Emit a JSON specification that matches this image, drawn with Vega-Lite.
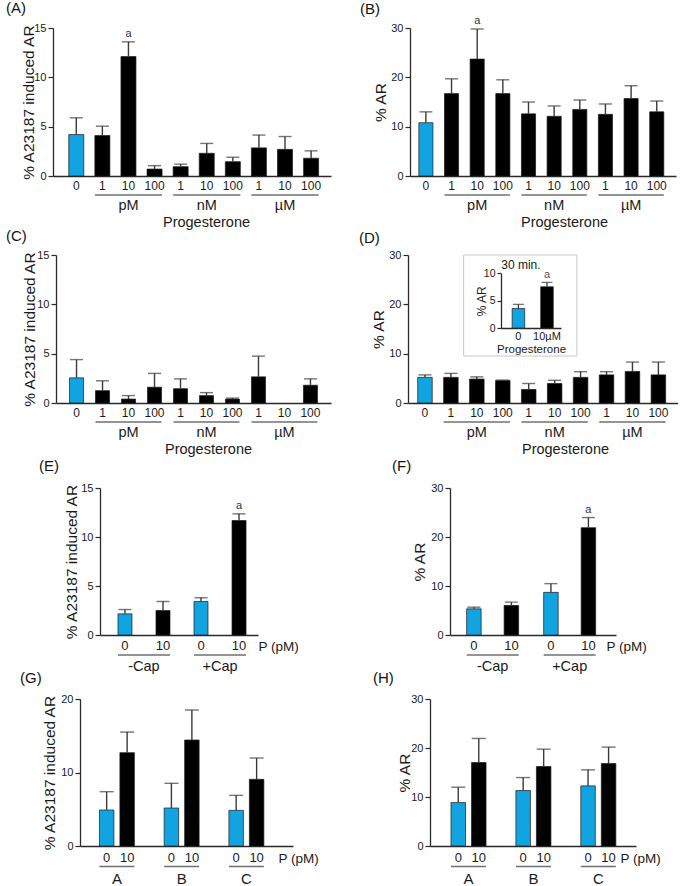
{
"$schema": "https://vega.github.io/schema/vega-lite/v6.json",
"padding": {"left": 0, "top": 1, "right": 0, "bottom": 0},
"background": "white",
"spacing": -6,
"bounds": "full",
"resolve": {"scale": {"xOffset": "independent"}},
"config": {
  "view": {"stroke": null},
  "font": "Liberation Sans",
  "axis": {"domainColor": "#2a2a2a", "domainWidth": 1.3, "tickColor": "#2a2a2a", "tickWidth": 1.2, "labelColor": "#1a1a1a", "titleColor": "#1a1a1a", "labelFont": "Liberation Sans", "titleFont": "Liberation Sans", "titleFontWeight": "normal", "grid": false, "labelFontSize": 11, "titleFontSize": 15.5},
  "axisY": {"tickSize": 5, "labelPadding": 2, "titlePadding": 3, "titleBaseline": "middle"},
  "axisX": {"ticks": false, "tickSize": 0, "labelPadding": 4, "labelAngle": 0, "labelFontSize": 12, "titleFontSize": 14.5},
  "title": {"anchor": "start", "frame": "group", "fontSize": 15, "fontWeight": "normal", "font": "Liberation Sans", "color": "#111", "baseline": "alphabetic"},
  "text": {"font": "Liberation Sans", "color": "#1a1a1a"}
},
"datasets": {
  "A": [
    {"cond": "c0", "grp": "ctrl", "v": 4.2, "hi": 5.9, "sig": ""},
    {"cond": "p1", "grp": "trt", "v": 4.1, "hi": 5.05, "sig": ""},
    {"cond": "p10", "grp": "trt", "v": 12.1, "hi": 13.6, "sig": "a"},
    {"cond": "p100", "grp": "trt", "v": 0.7, "hi": 1.05, "sig": ""},
    {"cond": "n1", "grp": "trt", "v": 0.95, "hi": 1.2, "sig": ""},
    {"cond": "n10", "grp": "trt", "v": 2.3, "hi": 3.3, "sig": ""},
    {"cond": "n100", "grp": "trt", "v": 1.45, "hi": 1.9, "sig": ""},
    {"cond": "u1", "grp": "trt", "v": 2.85, "hi": 4.15, "sig": ""},
    {"cond": "u10", "grp": "trt", "v": 2.7, "hi": 4.0, "sig": ""},
    {"cond": "u100", "grp": "trt", "v": 1.8, "hi": 2.55, "sig": ""}
  ],
  "B": [
    {"cond": "c0", "grp": "ctrl", "v": 10.8, "hi": 13.0, "sig": ""},
    {"cond": "p1", "grp": "trt", "v": 16.7, "hi": 19.7, "sig": ""},
    {"cond": "p10", "grp": "trt", "v": 23.7, "hi": 29.8, "sig": "a"},
    {"cond": "p100", "grp": "trt", "v": 16.7, "hi": 19.5, "sig": ""},
    {"cond": "n1", "grp": "trt", "v": 12.6, "hi": 15.0, "sig": ""},
    {"cond": "n10", "grp": "trt", "v": 12.1, "hi": 14.2, "sig": ""},
    {"cond": "n100", "grp": "trt", "v": 13.5, "hi": 15.4, "sig": ""},
    {"cond": "u1", "grp": "trt", "v": 12.5, "hi": 14.6, "sig": ""},
    {"cond": "u10", "grp": "trt", "v": 15.7, "hi": 18.3, "sig": ""},
    {"cond": "u100", "grp": "trt", "v": 13.0, "hi": 15.2, "sig": ""}
  ],
  "C": [
    {"cond": "c0", "grp": "ctrl", "v": 2.55, "hi": 4.4, "sig": ""},
    {"cond": "p1", "grp": "trt", "v": 1.25, "hi": 2.25, "sig": ""},
    {"cond": "p10", "grp": "trt", "v": 0.4, "hi": 0.75, "sig": ""},
    {"cond": "p100", "grp": "trt", "v": 1.6, "hi": 3.0, "sig": ""},
    {"cond": "n1", "grp": "trt", "v": 1.45, "hi": 2.45, "sig": ""},
    {"cond": "n10", "grp": "trt", "v": 0.75, "hi": 1.05, "sig": ""},
    {"cond": "n100", "grp": "trt", "v": 0.4, "hi": 0.5, "sig": ""},
    {"cond": "u1", "grp": "trt", "v": 2.65, "hi": 4.75, "sig": ""},
    {"cond": "u10", "grp": "trt", "v": 0, "hi": 0, "sig": ""},
    {"cond": "u100", "grp": "trt", "v": 1.8, "hi": 2.45, "sig": ""}
  ],
  "D": [
    {"cond": "c0", "grp": "ctrl", "v": 5.2, "hi": 5.7, "sig": ""},
    {"cond": "p1", "grp": "trt", "v": 5.2, "hi": 6.0, "sig": ""},
    {"cond": "p10", "grp": "trt", "v": 4.85, "hi": 5.3, "sig": ""},
    {"cond": "p100", "grp": "trt", "v": 4.55, "hi": 4.65, "sig": ""},
    {"cond": "n1", "grp": "trt", "v": 2.75, "hi": 3.95, "sig": ""},
    {"cond": "n10", "grp": "trt", "v": 3.95, "hi": 4.6, "sig": ""},
    {"cond": "n100", "grp": "trt", "v": 5.2, "hi": 6.35, "sig": ""},
    {"cond": "u1", "grp": "trt", "v": 5.7, "hi": 6.35, "sig": ""},
    {"cond": "u10", "grp": "trt", "v": 6.4, "hi": 8.3, "sig": ""},
    {"cond": "u100", "grp": "trt", "v": 5.7, "hi": 8.3, "sig": ""}
  ],
  "Di": [
    {"dose": "0", "grp": "ctrl", "v": 3.6, "hi": 4.35, "sig": ""},
    {"dose": "10µM", "grp": "trt", "v": 7.55, "hi": 8.35, "sig": "a"}
  ],
  "Dbox": [{"from": "0", "to": "10µM", "t": "30 min."}],
  "G3": [
    {"g": "pM", "first": "p1", "mid": "p10", "last": "p100"},
    {"g": "nM", "first": "n1", "mid": "n10", "last": "n100"},
    {"g": "µM", "first": "u1", "mid": "u10", "last": "u100"}
  ],
  "E": [
    {"cap": "-Cap", "dose": "0", "grp": "ctrl", "v": 2.16, "hi": 2.6, "sig": ""},
    {"cap": "-Cap", "dose": "10", "grp": "trt", "v": 2.5, "hi": 3.42, "sig": ""},
    {"cap": "+Cap", "dose": "0", "grp": "ctrl", "v": 3.42, "hi": 3.8, "sig": ""},
    {"cap": "+Cap", "dose": "10", "grp": "trt", "v": 11.68, "hi": 12.36, "sig": "a"}
  ],
  "F": [
    {"cap": "-Cap", "dose": "0", "grp": "ctrl", "v": 5.34, "hi": 5.68, "sig": ""},
    {"cap": "-Cap", "dose": "10", "grp": "trt", "v": 6.03, "hi": 6.71, "sig": ""},
    {"cap": "+Cap", "dose": "0", "grp": "ctrl", "v": 8.7, "hi": 10.48, "sig": ""},
    {"cap": "+Cap", "dose": "10", "grp": "trt", "v": 21.9, "hi": 23.97, "sig": "a"}
  ],
  "Cg": [{"cap": "-Cap"}, {"cap": "+Cap"}],
  "G": [
    {"sp": "A", "dose": "0", "grp": "ctrl", "v": 4.9, "hi": 7.39, "sig": ""},
    {"sp": "A", "dose": "10", "grp": "trt", "v": 12.7, "hi": 15.5, "sig": ""},
    {"sp": "B", "dose": "0", "grp": "ctrl", "v": 5.17, "hi": 8.53, "sig": ""},
    {"sp": "B", "dose": "10", "grp": "trt", "v": 14.42, "hi": 18.5, "sig": ""},
    {"sp": "C", "dose": "0", "grp": "ctrl", "v": 4.85, "hi": 6.89, "sig": ""},
    {"sp": "C", "dose": "10", "grp": "trt", "v": 9.07, "hi": 11.97, "sig": ""}
  ],
  "H": [
    {"sp": "A", "dose": "0", "grp": "ctrl", "v": 8.86, "hi": 12.0, "sig": ""},
    {"sp": "A", "dose": "10", "grp": "trt", "v": 17.04, "hi": 21.95, "sig": ""},
    {"sp": "B", "dose": "0", "grp": "ctrl", "v": 11.32, "hi": 13.97, "sig": ""},
    {"sp": "B", "dose": "10", "grp": "trt", "v": 16.22, "hi": 19.77, "sig": ""},
    {"sp": "C", "dose": "0", "grp": "ctrl", "v": 12.27, "hi": 15.54, "sig": ""},
    {"sp": "C", "dose": "10", "grp": "trt", "v": 16.84, "hi": 20.18, "sig": ""}
  ],
  "Sg": [{"sp": "A"}, {"sp": "B"}, {"sp": "C"}]
},
"vconcat": [
 {"hconcat": [
  {"width": 50, "height": 1, "data": {"values": [{}]}, "mark": {"type": "point", "opacity": 0}},
  {
    "width": 278, "height": 148,
    "title": {"text": "(A)", "dx": -47, "offset": 6},
    "layer": [
      {"data": {"name": "A"}, "mark": {"type": "bar", "stroke": "#1a1a1a", "strokeWidth": 0.7},
       "encoding": {
         "x": {"field": "cond", "type": "nominal", "scale": {"domain": ["c0","p1","p10","p100","n1","n10","n100","u1","u10","u100"], "paddingInner": 0.425, "paddingOuter": 0.54, "align": 0.56}, "axis": {"labelExpr": "slice(datum.value, 1)", "title": "Progesterone", "titleX": 153, "titleY": 46, "titleBaseline": "middle"}},
         "y": {"field": "v", "type": "quantitative", "scale": {"domain": [0, 15], "nice": false}, "axis": {"values": [0, 5, 10, 15], "title": "% A23187 induced AR", "titleX": -25}},
         "color": {"field": "grp", "type": "nominal", "scale": {"domain": ["ctrl", "trt"], "range": ["#12A4E0", "#000000"]}, "legend": null}
       }},
      {"data": {"name": "A"}, "transform": [{"filter": "datum.hi > datum.v"}], "mark": {"type": "rule", "color": "#3a3a3a", "strokeWidth": 1.4},
       "encoding": {"x": {"field": "cond", "type": "nominal"}, "y": {"field": "v", "type": "quantitative"}, "y2": {"field": "hi"}}},
      {"data": {"name": "A"}, "transform": [{"filter": "datum.hi > datum.v"}], "mark": {"type": "tick", "color": "#3a3a3a", "thickness": 1.4, "size": 13},
       "encoding": {"x": {"field": "cond", "type": "nominal"}, "y": {"field": "hi", "type": "quantitative"}}},
      {"data": {"name": "A"}, "transform": [{"filter": "datum.sig == 'a'"}], "mark": {"type": "text", "baseline": "bottom", "dy": -3, "fontSize": 11, "color": "#333"},
       "encoding": {"x": {"field": "cond", "type": "nominal"}, "y": {"field": "hi", "type": "quantitative"}, "text": {"field": "sig"}}},
      {"data": {"name": "G3"}, "mark": {"type": "rule", "yOffset": 19, "color": "#707070", "strokeWidth": 1.3},
       "encoding": {"x": {"field": "first", "type": "nominal", "bandPosition": 0}, "x2": {"field": "last", "bandPosition": 1}, "y": {"datum": 0}}},
      {"data": {"name": "G3"}, "mark": {"type": "text", "yOffset": 30, "baseline": "middle", "fontSize": 14.5},
       "encoding": {"x": {"field": "mid", "type": "nominal"}, "y": {"datum": 0}, "text": {"field": "g"}}}
    ]
  },
  {"width": 79, "height": 1, "data": {"values": [{}]}, "mark": {"type": "point", "opacity": 0}},
  {
    "width": 266, "height": 148,
    "title": {"text": "(B)", "dx": -50, "offset": -2},
    "layer": [
      {"data": {"name": "B"}, "mark": {"type": "bar", "stroke": "#1a1a1a", "strokeWidth": 0.7},
       "encoding": {
         "x": {"field": "cond", "type": "nominal", "scale": {"domain": ["c0","p1","p10","p100","n1","n10","n100","u1","u10","u100"], "paddingInner": 0.45, "paddingOuter": 0.41, "align": 0.42}, "axis": {"labelExpr": "slice(datum.value, 1)", "title": "Progesterone", "titleX": 154, "titleY": 46, "titleBaseline": "middle"}},
         "y": {"field": "v", "type": "quantitative", "scale": {"domain": [0, 30], "nice": false}, "axis": {"values": [0, 5, 10, 15, 20, 25, 30], "labelExpr": "datum.value % 10 === 0 ? datum.label : ''", "title": "% AR", "titleX": -30}},
         "color": {"field": "grp", "type": "nominal", "scale": {"domain": ["ctrl", "trt"], "range": ["#12A4E0", "#000000"]}, "legend": null}
       }},
      {"data": {"name": "B"}, "transform": [{"filter": "datum.hi > datum.v"}], "mark": {"type": "rule", "color": "#3a3a3a", "strokeWidth": 1.4},
       "encoding": {"x": {"field": "cond", "type": "nominal"}, "y": {"field": "v", "type": "quantitative"}, "y2": {"field": "hi"}}},
      {"data": {"name": "B"}, "transform": [{"filter": "datum.hi > datum.v"}], "mark": {"type": "tick", "color": "#3a3a3a", "thickness": 1.4, "size": 13},
       "encoding": {"x": {"field": "cond", "type": "nominal"}, "y": {"field": "hi", "type": "quantitative"}}},
      {"data": {"name": "B"}, "transform": [{"filter": "datum.sig == 'a'"}], "mark": {"type": "text", "baseline": "bottom", "dy": -3, "fontSize": 11, "color": "#333"},
       "encoding": {"x": {"field": "cond", "type": "nominal"}, "y": {"field": "hi", "type": "quantitative"}, "text": {"field": "sig"}}},
      {"data": {"name": "G3"}, "mark": {"type": "rule", "yOffset": 19, "color": "#707070", "strokeWidth": 1.3},
       "encoding": {"x": {"field": "first", "type": "nominal", "bandPosition": 0}, "x2": {"field": "last", "bandPosition": 1}, "y": {"datum": 0}}},
      {"data": {"name": "G3"}, "mark": {"type": "text", "yOffset": 30, "baseline": "middle", "fontSize": 14.5},
       "encoding": {"x": {"field": "mid", "type": "nominal"}, "y": {"datum": 0}, "text": {"field": "g"}}}
    ]
  }
 ], "spacing": 0, "bounds": "flush"},

 {"width": 1, "height": 6, "data": {"values": [{}]}, "mark": {"type": "point", "opacity": 0}},

 {"hconcat": [
  {"width": 53, "height": 1, "data": {"values": [{}]}, "mark": {"type": "point", "opacity": 0}},
  {
    "width": 275, "height": 148,
    "title": {"text": "(C)", "dx": -50, "offset": 5},
    "layer": [
      {"data": {"name": "C"}, "transform": [{"filter": "datum.v > 0"}], "mark": {"type": "bar", "stroke": "#1a1a1a", "strokeWidth": 0.7},
       "encoding": {
         "x": {"field": "cond", "type": "nominal", "scale": {"domain": ["c0","p1","p10","p100","n1","n10","n100","u1","u10","u100"], "paddingInner": 0.46, "paddingOuter": 0.52, "align": 0.5}, "axis": {"labelExpr": "slice(datum.value, 1)", "title": "Progesterone", "titleX": 152, "titleY": 46, "titleBaseline": "middle"}},
         "y": {"field": "v", "type": "quantitative", "scale": {"domain": [0, 15], "nice": false}, "axis": {"values": [0, 5, 10, 15], "title": "% A23187 induced AR", "titleX": -27}},
         "color": {"field": "grp", "type": "nominal", "scale": {"domain": ["ctrl", "trt"], "range": ["#12A4E0", "#000000"]}, "legend": null}
       }},
      {"data": {"name": "C"}, "transform": [{"filter": "datum.hi > datum.v"}], "mark": {"type": "rule", "color": "#3a3a3a", "strokeWidth": 1.4},
       "encoding": {"x": {"field": "cond", "type": "nominal"}, "y": {"field": "v", "type": "quantitative"}, "y2": {"field": "hi"}}},
      {"data": {"name": "C"}, "transform": [{"filter": "datum.hi > datum.v"}], "mark": {"type": "tick", "color": "#3a3a3a", "thickness": 1.4, "size": 13},
       "encoding": {"x": {"field": "cond", "type": "nominal"}, "y": {"field": "hi", "type": "quantitative"}}},
      {"data": {"name": "G3"}, "mark": {"type": "rule", "yOffset": 19, "color": "#707070", "strokeWidth": 1.3},
       "encoding": {"x": {"field": "first", "type": "nominal", "bandPosition": 0}, "x2": {"field": "last", "bandPosition": 1}, "y": {"datum": 0}}},
      {"data": {"name": "G3"}, "mark": {"type": "text", "yOffset": 30, "baseline": "middle", "fontSize": 14.5},
       "encoding": {"x": {"field": "mid", "type": "nominal"}, "y": {"datum": 0}, "text": {"field": "g"}}}
    ]
  },
  {"width": 77, "height": 1, "data": {"values": [{}]}, "mark": {"type": "point", "opacity": 0}},
  {
    "width": 270, "height": 148,
    "title": {"text": "(D)", "dx": -49, "offset": 3},
    "resolve": {"scale": {"x": "independent", "y": "independent"}, "axis": {"x": "independent", "y": "independent"}},
    "layer": [
      {"layer": [
        {"data": {"name": "D"}, "mark": {"type": "bar", "stroke": "#1a1a1a", "strokeWidth": 0.7},
         "encoding": {
           "x": {"field": "cond", "type": "nominal", "scale": {"domain": ["c0","p1","p10","p100","n1","n10","n100","u1","u10","u100"], "paddingInner": 0.44, "paddingOuter": 0.425, "align": 0.44}, "axis": {"orient": "bottom", "labelExpr": "slice(datum.value, 1)", "title": "Progesterone", "titleX": 157, "titleY": 46, "titleBaseline": "middle"}},
           "y": {"field": "v", "type": "quantitative", "scale": {"domain": [0, 30], "nice": false}, "axis": {"orient": "left", "values": [0, 5, 10, 15, 20, 25, 30], "labelExpr": "datum.value % 10 === 0 ? datum.label : ''", "title": "% AR", "titleX": -30}},
           "color": {"field": "grp", "type": "nominal", "scale": {"domain": ["ctrl", "trt"], "range": ["#12A4E0", "#000000"]}, "legend": null}
         }},
        {"data": {"name": "D"}, "transform": [{"filter": "datum.hi > datum.v"}], "mark": {"type": "rule", "color": "#3a3a3a", "strokeWidth": 1.4},
         "encoding": {"x": {"field": "cond", "type": "nominal"}, "y": {"field": "v", "type": "quantitative"}, "y2": {"field": "hi"}}},
        {"data": {"name": "D"}, "transform": [{"filter": "datum.hi > datum.v"}], "mark": {"type": "tick", "color": "#3a3a3a", "thickness": 1.4, "size": 13},
         "encoding": {"x": {"field": "cond", "type": "nominal"}, "y": {"field": "hi", "type": "quantitative"}}},
        {"data": {"name": "G3"}, "mark": {"type": "rule", "yOffset": 19, "color": "#707070", "strokeWidth": 1.3},
         "encoding": {"x": {"field": "first", "type": "nominal", "bandPosition": 0}, "x2": {"field": "last", "bandPosition": 1}, "y": {"datum": 0}}},
        {"data": {"name": "G3"}, "mark": {"type": "text", "yOffset": 30, "baseline": "middle", "fontSize": 14.5},
         "encoding": {"x": {"field": "mid", "type": "nominal"}, "y": {"datum": 0}, "text": {"field": "g"}}}
      ]},
      {"layer": [
        {"data": {"name": "Dbox"}, "mark": {"type": "rect", "fill": "transparent", "stroke": "#c8c8c8", "strokeWidth": 1},
         "encoding": {"x": {"field": "from", "type": "nominal", "bandPosition": -3.86}, "x2": {"field": "to", "bandPosition": 2.88}, "y": {"datum": 13.33}, "y2": {"datum": -5.04}}},
        {"data": {"name": "Dbox"}, "mark": {"type": "text", "baseline": "middle", "fontSize": 12},
         "encoding": {"x": {"field": "from", "type": "nominal", "bandPosition": 0.7}, "y": {"datum": 11.5}, "text": {"field": "t"}}},
        {"data": {"name": "Di"}, "mark": {"type": "bar", "stroke": "#1a1a1a", "strokeWidth": 0.7},
         "encoding": {
           "x": {"field": "dose", "type": "nominal", "scale": {"domain": ["0", "10µM"], "range": [93, 153], "paddingInner": 0.56, "paddingOuter": 0.33, "align": 0.59}, "axis": {"orient": "bottom", "offset": -75, "zindex": 2, "labelFontSize": 11, "labelPadding": 2, "title": "Progesterone", "titleFontSize": 11.5, "titlePadding": 2}},
           "y": {"field": "v", "type": "quantitative", "scale": {"domain": [0, 10], "range": [73.3, 18.3], "nice": false}, "axis": {"orient": "left", "offset": -93, "zindex": 2, "values": [0, 5, 10], "labelFontSize": 10.5, "tickSize": 4, "title": "% AR", "titleFontSize": 12, "titleX": -20}},
           "color": {"field": "grp", "type": "nominal", "scale": {"domain": ["ctrl", "trt"], "range": ["#12A4E0", "#000000"]}, "legend": null}
         }},
        {"data": {"name": "Di"}, "mark": {"type": "rule", "color": "#3a3a3a", "strokeWidth": 1.3},
         "encoding": {"x": {"field": "dose", "type": "nominal"}, "y": {"field": "v", "type": "quantitative"}, "y2": {"field": "hi"}}},
        {"data": {"name": "Di"}, "mark": {"type": "tick", "color": "#3a3a3a", "thickness": 1.3, "size": 11},
         "encoding": {"x": {"field": "dose", "type": "nominal"}, "y": {"field": "hi", "type": "quantitative"}}},
        {"data": {"name": "Di"}, "transform": [{"filter": "datum.sig == 'a'"}], "mark": {"type": "text", "baseline": "bottom", "dy": -2, "fontSize": 11, "color": "#555"},
         "encoding": {"x": {"field": "dose", "type": "nominal"}, "y": {"field": "hi", "type": "quantitative"}, "text": {"field": "sig"}}}
      ]}
    ]
  }
 ], "spacing": 0, "bounds": "flush"},

 {"width": 1, "height": 9, "data": {"values": [{}]}, "mark": {"type": "point", "opacity": 0}},

 {"hconcat": [
  {"width": 97, "height": 1, "data": {"values": [{}]}, "mark": {"type": "point", "opacity": 0}},
  {
    "width": 158, "height": 147,
    "title": {"text": "(E)", "dx": -61, "offset": 8},
    "layer": [
      {"data": {"name": "E"}, "mark": {"type": "bar", "stroke": "#1a1a1a", "strokeWidth": 0.7},
       "encoding": {
         "x": {"field": "cap", "type": "nominal", "scale": {"domain": ["-Cap", "+Cap"], "paddingInner": 0.316, "paddingOuter": 0.197, "align": 0.6}, "axis": {"labelPadding": 24, "labelFontSize": 14.5, "title": "P (pM)", "titleAngle": 0, "titleX": 158, "titleY": 11, "titleAlign": "left", "titleBaseline": "middle", "titleFontSize": 13.5}},
         "xOffset": {"field": "dose", "type": "nominal", "scale": {"domain": ["0", "10"], "paddingInner": 0.632, "paddingOuter": 0}},
         "y": {"field": "v", "type": "quantitative", "scale": {"domain": [0, 15], "nice": false}, "axis": {"values": [0, 5, 10, 15], "title": "% A23187 induced AR", "titleX": -28.5}},
         "color": {"field": "grp", "type": "nominal", "scale": {"domain": ["ctrl", "trt"], "range": ["#12A4E0", "#000000"]}, "legend": null}
       }},
      {"data": {"name": "E"}, "mark": {"type": "rule", "color": "#3a3a3a", "strokeWidth": 1.4},
       "encoding": {"x": {"field": "cap", "type": "nominal"}, "xOffset": {"field": "dose", "type": "nominal"}, "y": {"field": "v", "type": "quantitative"}, "y2": {"field": "hi"}}},
      {"data": {"name": "E"}, "mark": {"type": "tick", "color": "#3a3a3a", "thickness": 1.4, "size": 13},
       "encoding": {"x": {"field": "cap", "type": "nominal"}, "xOffset": {"field": "dose", "type": "nominal"}, "y": {"field": "hi", "type": "quantitative"}}},
      {"data": {"name": "E"}, "transform": [{"filter": "datum.sig == 'a'"}], "mark": {"type": "text", "baseline": "bottom", "dy": -3, "fontSize": 11, "color": "#333"},
       "encoding": {"x": {"field": "cap", "type": "nominal"}, "xOffset": {"field": "dose", "type": "nominal"}, "y": {"field": "hi", "type": "quantitative"}, "text": {"field": "sig"}}},
      {"data": {"name": "E"}, "mark": {"type": "text", "baseline": "middle", "yOffset": 11, "fontSize": 13},
       "encoding": {"x": {"field": "cap", "type": "nominal"}, "xOffset": {"field": "dose", "type": "nominal"}, "y": {"datum": 0}, "text": {"field": "dose"}}},
      {"data": {"name": "Cg"}, "mark": {"type": "rule", "yOffset": 20, "color": "#707070", "strokeWidth": 1.3},
       "encoding": {"x": {"field": "cap", "type": "nominal", "bandPosition": 0}, "x2": {"field": "cap", "bandPosition": 1}, "y": {"datum": 0}}}
    ]
  },
  {"width": 192, "height": 1, "data": {"values": [{}]}, "mark": {"type": "point", "opacity": 0}},
  {
    "width": 166, "height": 147,
    "title": {"text": "(F)", "dx": -58, "offset": 8},
    "layer": [
      {"data": {"name": "F"}, "mark": {"type": "bar", "stroke": "#1a1a1a", "strokeWidth": 0.7},
       "encoding": {
         "x": {"field": "cap", "type": "nominal", "scale": {"domain": ["-Cap", "+Cap"], "paddingInner": 0.325, "paddingOuter": 0.24, "align": 0.45}, "axis": {"labelPadding": 24, "labelFontSize": 14.5, "title": "P (pM)", "titleAngle": 0, "titleX": 156, "titleY": 11, "titleAlign": "left", "titleBaseline": "middle", "titleFontSize": 13.5}},
         "xOffset": {"field": "dose", "type": "nominal", "scale": {"domain": ["0", "10"], "paddingInner": 0.613, "paddingOuter": 0}},
         "y": {"field": "v", "type": "quantitative", "scale": {"domain": [0, 30], "nice": false}, "axis": {"values": [0, 5, 10, 15, 20, 25, 30], "labelExpr": "datum.value % 10 === 0 ? datum.label : ''", "title": "% AR", "titleX": -31}},
         "color": {"field": "grp", "type": "nominal", "scale": {"domain": ["ctrl", "trt"], "range": ["#12A4E0", "#000000"]}, "legend": null}
       }},
      {"data": {"name": "F"}, "mark": {"type": "rule", "color": "#3a3a3a", "strokeWidth": 1.4},
       "encoding": {"x": {"field": "cap", "type": "nominal"}, "xOffset": {"field": "dose", "type": "nominal"}, "y": {"field": "v", "type": "quantitative"}, "y2": {"field": "hi"}}},
      {"data": {"name": "F"}, "mark": {"type": "tick", "color": "#3a3a3a", "thickness": 1.4, "size": 13},
       "encoding": {"x": {"field": "cap", "type": "nominal"}, "xOffset": {"field": "dose", "type": "nominal"}, "y": {"field": "hi", "type": "quantitative"}}},
      {"data": {"name": "F"}, "transform": [{"filter": "datum.sig == 'a'"}], "mark": {"type": "text", "baseline": "bottom", "dy": -3, "fontSize": 11, "color": "#333"},
       "encoding": {"x": {"field": "cap", "type": "nominal"}, "xOffset": {"field": "dose", "type": "nominal"}, "y": {"field": "hi", "type": "quantitative"}, "text": {"field": "sig"}}},
      {"data": {"name": "F"}, "mark": {"type": "text", "baseline": "middle", "yOffset": 11, "fontSize": 13},
       "encoding": {"x": {"field": "cap", "type": "nominal"}, "xOffset": {"field": "dose", "type": "nominal"}, "y": {"datum": 0}, "text": {"field": "dose"}}},
      {"data": {"name": "Cg"}, "mark": {"type": "rule", "yOffset": 20, "color": "#707070", "strokeWidth": 1.3},
       "encoding": {"x": {"field": "cap", "type": "nominal", "bandPosition": 0}, "x2": {"field": "cap", "bandPosition": 1}, "y": {"datum": 0}}}
    ]
  }
 ], "spacing": 0, "bounds": "flush", "resolve": {"scale": {"xOffset": "independent"}}},

 {"width": 1, "height": 2, "data": {"values": [{}]}, "mark": {"type": "point", "opacity": 0}},

 {"hconcat": [
  {"width": 77, "height": 1, "data": {"values": [{}]}, "mark": {"type": "point", "opacity": 0}},
  {
    "width": 213, "height": 147,
    "title": {"text": "(G)", "dx": -60, "offset": 7},
    "layer": [
      {"data": {"name": "G"}, "mark": {"type": "bar", "stroke": "#1a1a1a", "strokeWidth": 0.7},
       "encoding": {
         "x": {"field": "sp", "type": "nominal", "scale": {"domain": ["A", "B", "C"], "paddingInner": 0.46, "paddingOuter": 0.375, "align": 0.4}, "axis": {"labelPadding": 25, "labelFontSize": 15, "title": "P (pM)", "titleAngle": 0, "titleX": 198, "titleY": 12, "titleAlign": "left", "titleBaseline": "middle", "titleFontSize": 13.5}},
         "xOffset": {"field": "dose", "type": "nominal", "scale": {"domain": ["0", "10"], "paddingInner": 0.293, "paddingOuter": 0}},
         "y": {"field": "v", "type": "quantitative", "scale": {"domain": [0, 20], "nice": false}, "axis": {"values": [0, 10, 20], "title": "% A23187 induced AR", "titleX": -30.5}},
         "color": {"field": "grp", "type": "nominal", "scale": {"domain": ["ctrl", "trt"], "range": ["#12A4E0", "#000000"]}, "legend": null}
       }},
      {"data": {"name": "G"}, "mark": {"type": "rule", "color": "#3a3a3a", "strokeWidth": 1.4},
       "encoding": {"x": {"field": "sp", "type": "nominal"}, "xOffset": {"field": "dose", "type": "nominal"}, "y": {"field": "v", "type": "quantitative"}, "y2": {"field": "hi"}}},
      {"data": {"name": "G"}, "mark": {"type": "tick", "color": "#3a3a3a", "thickness": 1.4, "size": 14},
       "encoding": {"x": {"field": "sp", "type": "nominal"}, "xOffset": {"field": "dose", "type": "nominal"}, "y": {"field": "hi", "type": "quantitative"}}},
      {"data": {"name": "G"}, "mark": {"type": "text", "baseline": "middle", "yOffset": 12, "fontSize": 13},
       "encoding": {"x": {"field": "sp", "type": "nominal"}, "xOffset": {"field": "dose", "type": "nominal"}, "y": {"datum": 0}, "text": {"field": "dose"}}},
      {"data": {"name": "Sg"}, "mark": {"type": "rule", "yOffset": 20.5, "color": "#707070", "strokeWidth": 1.3},
       "encoding": {"x": {"field": "sp", "type": "nominal", "bandPosition": 0}, "x2": {"field": "sp", "bandPosition": 1}, "y": {"datum": 0}}}
    ]
  },
  {"width": 137, "height": 1, "data": {"values": [{}]}, "mark": {"type": "point", "opacity": 0}},
  {
    "width": 206, "height": 147,
    "title": {"text": "(H)", "dx": -57, "offset": 7},
    "layer": [
      {"data": {"name": "H"}, "mark": {"type": "bar", "stroke": "#1a1a1a", "strokeWidth": 0.7},
       "encoding": {
         "x": {"field": "sp", "type": "nominal", "scale": {"domain": ["A", "B", "C"], "paddingInner": 0.46, "paddingOuter": 0.317, "align": 0.51}, "axis": {"labelPadding": 25, "labelFontSize": 15, "title": "P (pM)", "titleAngle": 0, "titleX": 190, "titleY": 12, "titleAlign": "left", "titleBaseline": "middle", "titleFontSize": 13.5}},
         "xOffset": {"field": "dose", "type": "nominal", "scale": {"domain": ["0", "10"], "paddingInner": 0.293, "paddingOuter": 0}},
         "y": {"field": "v", "type": "quantitative", "scale": {"domain": [0, 30], "nice": false}, "axis": {"values": [0, 5, 10, 15, 20, 25, 30], "labelExpr": "datum.value % 10 === 0 ? datum.label : ''", "title": "% AR", "titleX": -25.5}},
         "color": {"field": "grp", "type": "nominal", "scale": {"domain": ["ctrl", "trt"], "range": ["#12A4E0", "#000000"]}, "legend": null}
       }},
      {"data": {"name": "H"}, "mark": {"type": "rule", "color": "#3a3a3a", "strokeWidth": 1.4},
       "encoding": {"x": {"field": "sp", "type": "nominal"}, "xOffset": {"field": "dose", "type": "nominal"}, "y": {"field": "v", "type": "quantitative"}, "y2": {"field": "hi"}}},
      {"data": {"name": "H"}, "mark": {"type": "tick", "color": "#3a3a3a", "thickness": 1.4, "size": 14},
       "encoding": {"x": {"field": "sp", "type": "nominal"}, "xOffset": {"field": "dose", "type": "nominal"}, "y": {"field": "hi", "type": "quantitative"}}},
      {"data": {"name": "H"}, "mark": {"type": "text", "baseline": "middle", "yOffset": 12, "fontSize": 13},
       "encoding": {"x": {"field": "sp", "type": "nominal"}, "xOffset": {"field": "dose", "type": "nominal"}, "y": {"datum": 0}, "text": {"field": "dose"}}},
      {"data": {"name": "Sg"}, "mark": {"type": "rule", "yOffset": 20.5, "color": "#707070", "strokeWidth": 1.3},
       "encoding": {"x": {"field": "sp", "type": "nominal", "bandPosition": 0}, "x2": {"field": "sp", "bandPosition": 1}, "y": {"datum": 0}}}
    ]
  }
 ], "spacing": 0, "bounds": "flush", "resolve": {"scale": {"xOffset": "independent"}}}
]
}
